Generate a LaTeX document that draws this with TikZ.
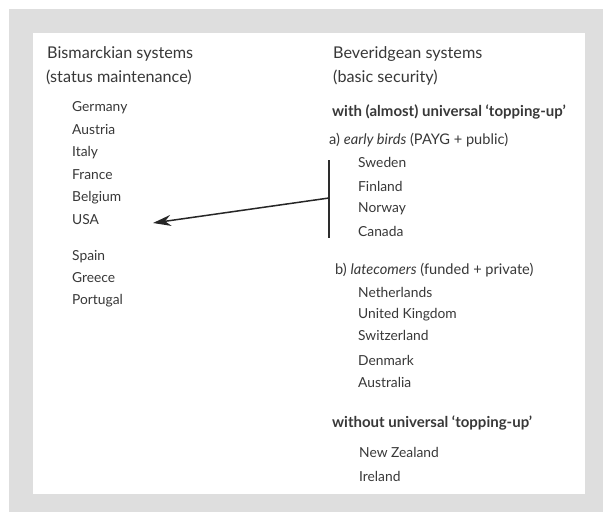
\documentclass[tikz,border=0pt]{standalone}
\usepackage{fontspec}
\setmainfont{Lato}
\usetikzlibrary{arrows.meta}
\definecolor{bggrey}{HTML}{DEDEDE}
\definecolor{txt}{HTML}{383838}
\begin{document}
\begin{tikzpicture}[x=1pt,y=-1pt,
  lbl/.style={anchor=base west,inner sep=0pt,text=txt,font=\fontsize{13.8}{16}\selectfont},
  sub/.style={lbl,font=\fontsize{14.6}{17}\selectfont},
  hd/.style={lbl,font=\fontsize{15}{17}\selectfont\bfseries},
  top/.style={lbl,font=\fontsize{16.2}{19}\selectfont},
  barline/.style={draw=txt!80!black,line width=1.8pt},
  arr/.style={draw=black!85,line width=1.5pt,-{Stealth[length=18pt,width=11pt]}}]
\useasboundingbox (0,0) rectangle (603,512);
\fill[white] (0,0) rectangle (603,512);
\fill[bggrey] (9,9) rectangle (603,512);
\fill[white] (33,33) rectangle (585,494);
% left column
\node[top] (bis) at (47,58) {Bismarckian systems};
\node[top] (sm) at (46,82.5) {(status maintenance)};
\node[lbl] (de) at (72,111) {Germany};
\node[lbl] (at) at (72,134) {Austria};
\node[lbl] (it) at (72,156.5) {Italy};
\node[lbl] (fr) at (72,179) {France};
\node[lbl] (be) at (72,201.5) {Belgium};
\node[lbl] (us) at (72,224) {USA};
\node[lbl] (es) at (72,260) {Spain};
\node[lbl] (gr) at (72,282) {Greece};
\node[lbl] (pt) at (72,304.5) {Portugal};
% right column
\node[top] (bev) at (333,58) {Beveridgean systems};
\node[top] (bs) at (333,82.5) {(basic security)};
\node[hd] (with) at (332,116) {with (almost) universal ‘topping-up’};
\node[sub] (ea) at (329,144) {a) \textit{early birds} (PAYG + public)};
\node[lbl] (se) at (358,167) {Sweden};
\node[lbl] (fi) at (358,191) {Finland};
\node[lbl] (no) at (358,212) {Norway};
\node[lbl] (ca) at (358,236) {Canada};
\node[sub] (la) at (335,274) {b) \textit{latecomers} (funded + private)};
\node[lbl] (nl) at (358,297) {Netherlands};
\node[lbl] (uk) at (358,318) {United Kingdom};
\node[lbl] (ch) at (358,340) {Switzerland};
\node[lbl] (dk) at (358,365) {Denmark};
\node[lbl] (au) at (358,387) {Australia};
\node[hd] (wo) at (332,427) {without universal ‘topping-up’};
\node[lbl] (nz) at (359,457) {New Zealand};
\node[lbl] (ie) at (359,481) {Ireland};
% bracket and arrow
\coordinate (bt) at (329,160);
\coordinate (bb) at (329,238);
\coordinate (bm) at (329,198);
\coordinate (tip) at (153,223);
\draw[barline] (bt) -- (bb);
\draw[arr] (bm) -- (tip);
\end{tikzpicture}
\end{document}
